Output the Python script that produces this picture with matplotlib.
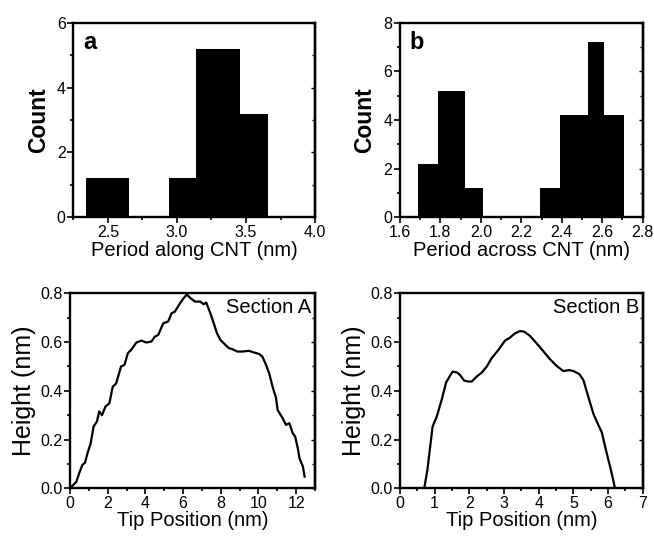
import numpy as np
import matplotlib
matplotlib.use("Agg")
import matplotlib.pyplot as plt
from matplotlib.ticker import MultipleLocator

plt.rcParams['font.family'] = ['Liberation Sans', 'DejaVu Sans']

# (a) histogram of period along the CNT
a_left = [2.34, 2.94, 3.14, 3.46]
a_right = [2.65, 3.14, 3.46, 3.66]
a_count = [1.2, 1.2, 5.2, 3.2]

# (b) histogram of period across the CNT
b_left = [1.69, 1.79, 1.92, 2.29, 2.39, 2.53, 2.61]
b_right = [1.79, 1.92, 2.01, 2.39, 2.53, 2.61, 2.71]
b_count = [2.2, 5.2, 1.2, 1.2, 4.2, 7.2, 4.2]

# Section A height profile
secA_x = [0.0, 0.34, 0.48, 0.66, 0.80, 0.93, 1.10, 1.25, 1.43, 1.55, 1.70, 1.88,
          2.09, 2.27, 2.45, 2.71, 2.89, 3.07, 3.25, 3.52, 3.79, 4.05, 4.32, 4.50,
          4.68, 4.95, 5.21, 5.39, 5.57, 5.84, 6.02, 6.20, 6.41, 6.64, 6.91, 7.09,
          7.23, 7.45, 7.63, 7.80, 7.98, 8.25, 8.43, 8.61, 8.88, 9.14, 9.50, 9.77,
          10.04, 10.21, 10.39, 10.57, 10.75, 10.93, 11.02, 11.29, 11.46, 11.64,
          11.82, 11.95, 12.09, 12.18, 12.36, 12.45]
secA_y = [0.0, 0.027, 0.060, 0.096, 0.105, 0.144, 0.185, 0.253, 0.274, 0.315, 0.300, 0.335,
          0.349, 0.417, 0.430, 0.500, 0.506, 0.554, 0.568, 0.598, 0.606, 0.598, 0.602, 0.622,
          0.629, 0.677, 0.684, 0.718, 0.725, 0.759, 0.779, 0.795, 0.779, 0.766, 0.766, 0.755,
          0.762, 0.718, 0.677, 0.636, 0.609, 0.588, 0.575, 0.571, 0.561, 0.561, 0.564, 0.557,
          0.551, 0.540, 0.509, 0.472, 0.417, 0.372, 0.321, 0.287, 0.260, 0.267,
          0.226, 0.212, 0.164, 0.123, 0.089, 0.048]

# Section B height profile
secB_x = [0.70, 0.79, 0.94, 1.06, 1.20, 1.33, 1.44, 1.52, 1.65, 1.73, 1.85, 1.97,
          2.07, 2.21, 2.36, 2.50, 2.64, 2.84, 3.03, 3.17, 3.32, 3.46, 3.58, 3.75,
          3.94, 4.13, 4.33, 4.52, 4.71, 4.88, 5.00, 5.17, 5.29, 5.43, 5.58, 5.72,
          5.82, 5.94, 6.06, 6.15, 6.20]
secB_y = [0.0, 0.075, 0.253, 0.294, 0.362, 0.434, 0.461, 0.479, 0.475, 0.465, 0.442, 0.438,
          0.438, 0.458, 0.475, 0.499, 0.533, 0.568, 0.606, 0.618, 0.636, 0.645, 0.643, 0.625,
          0.595, 0.563, 0.529, 0.502, 0.481, 0.485, 0.481, 0.469, 0.444, 0.376, 0.305, 0.260,
          0.230, 0.157, 0.089, 0.034, 0.0]

fig = plt.figure(figsize=(6.54, 5.36), dpi=100)
ax_a = fig.add_axes([0.1121, 0.5946, 0.3696, 0.363])
ax_b = fig.add_axes([0.6116, 0.5946, 0.3711, 0.363])
ax_c = fig.add_axes([0.1070, 0.0890, 0.3746, 0.3638])
ax_d = fig.add_axes([0.6116, 0.0890, 0.3711, 0.3638])


def style(ax, ymaj, ymin):
    for s in ax.spines.values():
        s.set_linewidth(1.7)
    ax.tick_params(which='both', direction='out', labelsize=11.5, width=1.2,
                   top=False, right=False, pad=1.5)
    ax.tick_params(which='major', length=4)
    ax.tick_params(which='minor', length=2.5)
    # small inward ticks on the right frame
    sec = ax.secondary_yaxis('right')
    sec.yaxis.set_major_locator(MultipleLocator(ymaj))
    sec.yaxis.set_minor_locator(MultipleLocator(ymin))
    sec.tick_params(which='both', direction='in', labelright=False, width=1.0)
    sec.tick_params(which='major', length=3)
    sec.tick_params(which='minor', length=2)
    sec.spines['right'].set_linewidth(1.7)


# (a)
ax_a.bar(a_left, a_count, width=np.array(a_right) - np.array(a_left),
         align='edge', color='black', linewidth=0)
ax_a.set_xlim(2.25, 4.0)
ax_a.set_ylim(0, 6)
ax_a.xaxis.set_major_locator(MultipleLocator(0.5))
ax_a.xaxis.set_minor_locator(MultipleLocator(0.25))
ax_a.yaxis.set_major_locator(MultipleLocator(2))
ax_a.yaxis.set_minor_locator(MultipleLocator(1))
ax_a.set_xlabel("Period along CNT (nm)", fontsize=14.5, labelpad=1)
ax_a.set_ylabel("Count", fontsize=16.5, fontweight='bold', labelpad=5)
ax_a.text(0.04, 0.9, "a", transform=ax_a.transAxes, fontsize=17,
          fontweight='bold', va='center', ha='left')
style(ax_a, 2, 1)

# (b)
ax_b.bar(b_left, b_count, width=np.array(b_right) - np.array(b_left),
         align='edge', color='black', linewidth=0)
ax_b.set_xlim(1.6, 2.8)
ax_b.set_ylim(0, 8)
ax_b.xaxis.set_major_locator(MultipleLocator(0.2))
ax_b.xaxis.set_minor_locator(MultipleLocator(0.1))
ax_b.yaxis.set_major_locator(MultipleLocator(2))
ax_b.yaxis.set_minor_locator(MultipleLocator(1))
ax_b.set_xlabel("Period across CNT (nm)", fontsize=14.5, labelpad=1)
ax_b.set_ylabel("Count", fontsize=16.5, fontweight='bold', labelpad=5)
ax_b.text(0.04, 0.9, "b", transform=ax_b.transAxes, fontsize=17,
          fontweight='bold', va='center', ha='left')
style(ax_b, 2, 1)

# Section A
ax_c.plot(secA_x, secA_y, color='black', linewidth=1.6)
ax_c.set_xlim(0, 13)
ax_c.set_ylim(0, 0.8)
ax_c.xaxis.set_major_locator(MultipleLocator(2))
ax_c.xaxis.set_minor_locator(MultipleLocator(1))
ax_c.yaxis.set_major_locator(MultipleLocator(0.2))
ax_c.yaxis.set_minor_locator(MultipleLocator(0.1))
ax_c.set_xlabel("Tip Position (nm)", fontsize=14.5, labelpad=0)
ax_c.set_ylabel("Height (nm)", fontsize=18, labelpad=3)
ax_c.text(0.985, 0.925, "Section A", transform=ax_c.transAxes, fontsize=14.5,
          va='center', ha='right')
style(ax_c, 0.2, 0.1)

# Section B
ax_d.plot(secB_x, secB_y, color='black', linewidth=1.6)
ax_d.set_xlim(0, 7)
ax_d.set_ylim(0, 0.8)
ax_d.xaxis.set_major_locator(MultipleLocator(1))
ax_d.xaxis.set_minor_locator(MultipleLocator(0.5))
ax_d.yaxis.set_major_locator(MultipleLocator(0.2))
ax_d.yaxis.set_minor_locator(MultipleLocator(0.1))
ax_d.set_xlabel("Tip Position (nm)", fontsize=14.5, labelpad=0)
ax_d.set_ylabel("Height (nm)", fontsize=18, labelpad=3)
ax_d.text(0.985, 0.925, "Section B", transform=ax_d.transAxes, fontsize=14.5,
          va='center', ha='right')
style(ax_d, 0.2, 0.1)

fig.savefig("out.png", dpi=100)
